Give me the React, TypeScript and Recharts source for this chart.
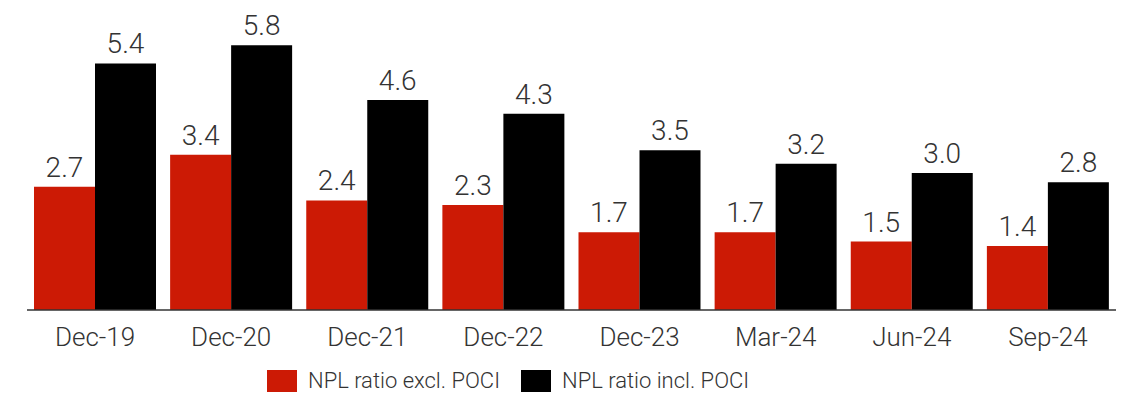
import { BarChart, Bar, XAxis, YAxis, LabelList, Legend } from 'recharts'

const PERIODS = ['Dec-19', 'Dec-20', 'Dec-21', 'Dec-22', 'Dec-23', 'Mar-24', 'Jun-24', 'Sep-24']
const NPL_EXCL_POCI = [2.7, 3.4, 2.4, 2.3, 1.7, 1.7, 1.5, 1.4]
const NPL_INCL_POCI = [5.4, 5.8, 4.6, 4.3, 3.5, 3.2, 3.0, 2.8]

const RED = '#cc1a05'
const BLACK = '#000000'
const TEXT = '#333333'
const FONT = 'Roboto, "Helvetica Neue", Arial, sans-serif'

const chartData = PERIODS.map((period, i) => ({
  period,
  excl: NPL_EXCL_POCI[i],
  incl: NPL_INCL_POCI[i],
}))

const LEGEND_ITEMS = [
  { key: 'excl', label: 'NPL ratio excl. POCI', color: RED },
  { key: 'incl', label: 'NPL ratio incl. POCI', color: BLACK },
]

function LegendContent() {
  return (
    <div
      style={{
        height: 45,
        display: 'flex',
        alignItems: 'flex-end',
        paddingLeft: 267,
        paddingBottom: 1,
        boxSizing: 'border-box',
      }}
    >
      {LEGEND_ITEMS.map((item) => (
        <div
          key={item.key}
          style={{ display: 'flex', alignItems: 'center', marginRight: 21 }}
        >
          <span
            style={{
              display: 'inline-block',
              width: 30,
              height: 22,
              background: item.color,
              marginRight: 11,
            }}
          />
          <span
            style={{
              fontFamily: FONT,
              fontWeight: 300,
              fontSize: 22,
              color: TEXT,
              lineHeight: '22px',
            }}
          >
            {item.label}
          </span>
        </div>
      ))}
    </div>
  )
}

const fmt = (v: unknown) => Number(v).toFixed(1)

export default function App() {
  return (
    <div style={{ width: 1121, height: 393 }}>
      <style>{'body{margin:0}'}</style>
      <BarChart
        width={1121}
        height={393}
        data={chartData}
        margin={{ top: 36, right: 5, bottom: 0, left: 27 }}
        barCategoryGap={7}
        barGap={0}
      >
        <XAxis
          dataKey="period"
          height={38}
          tickLine={false}
          tickSize={0}
          tickMargin={18}
          axisLine={{ stroke: '#333333', strokeWidth: 1.5 }}
          tick={{ fill: TEXT, fontSize: 26, fontFamily: FONT, fontWeight: 300 }}
          interval={0}
        />
        <YAxis hide domain={[0, 6]} />
        <Legend verticalAlign="bottom" content={<LegendContent />} wrapperStyle={{ left: 0, width: 1121 }} />
        <Bar dataKey="excl" fill={RED} isAnimationActive={false}>
          <LabelList
            dataKey="excl"
            position="top"
            offset={10}
            formatter={fmt}
            style={{ fill: TEXT, fontSize: 28, fontFamily: FONT, fontWeight: 300 }}
          />
        </Bar>
        <Bar dataKey="incl" fill={BLACK} isAnimationActive={false}>
          <LabelList
            dataKey="incl"
            position="top"
            offset={10}
            formatter={fmt}
            style={{ fill: TEXT, fontSize: 28, fontFamily: FONT, fontWeight: 300 }}
          />
        </Bar>
      </BarChart>
    </div>
  )
}
